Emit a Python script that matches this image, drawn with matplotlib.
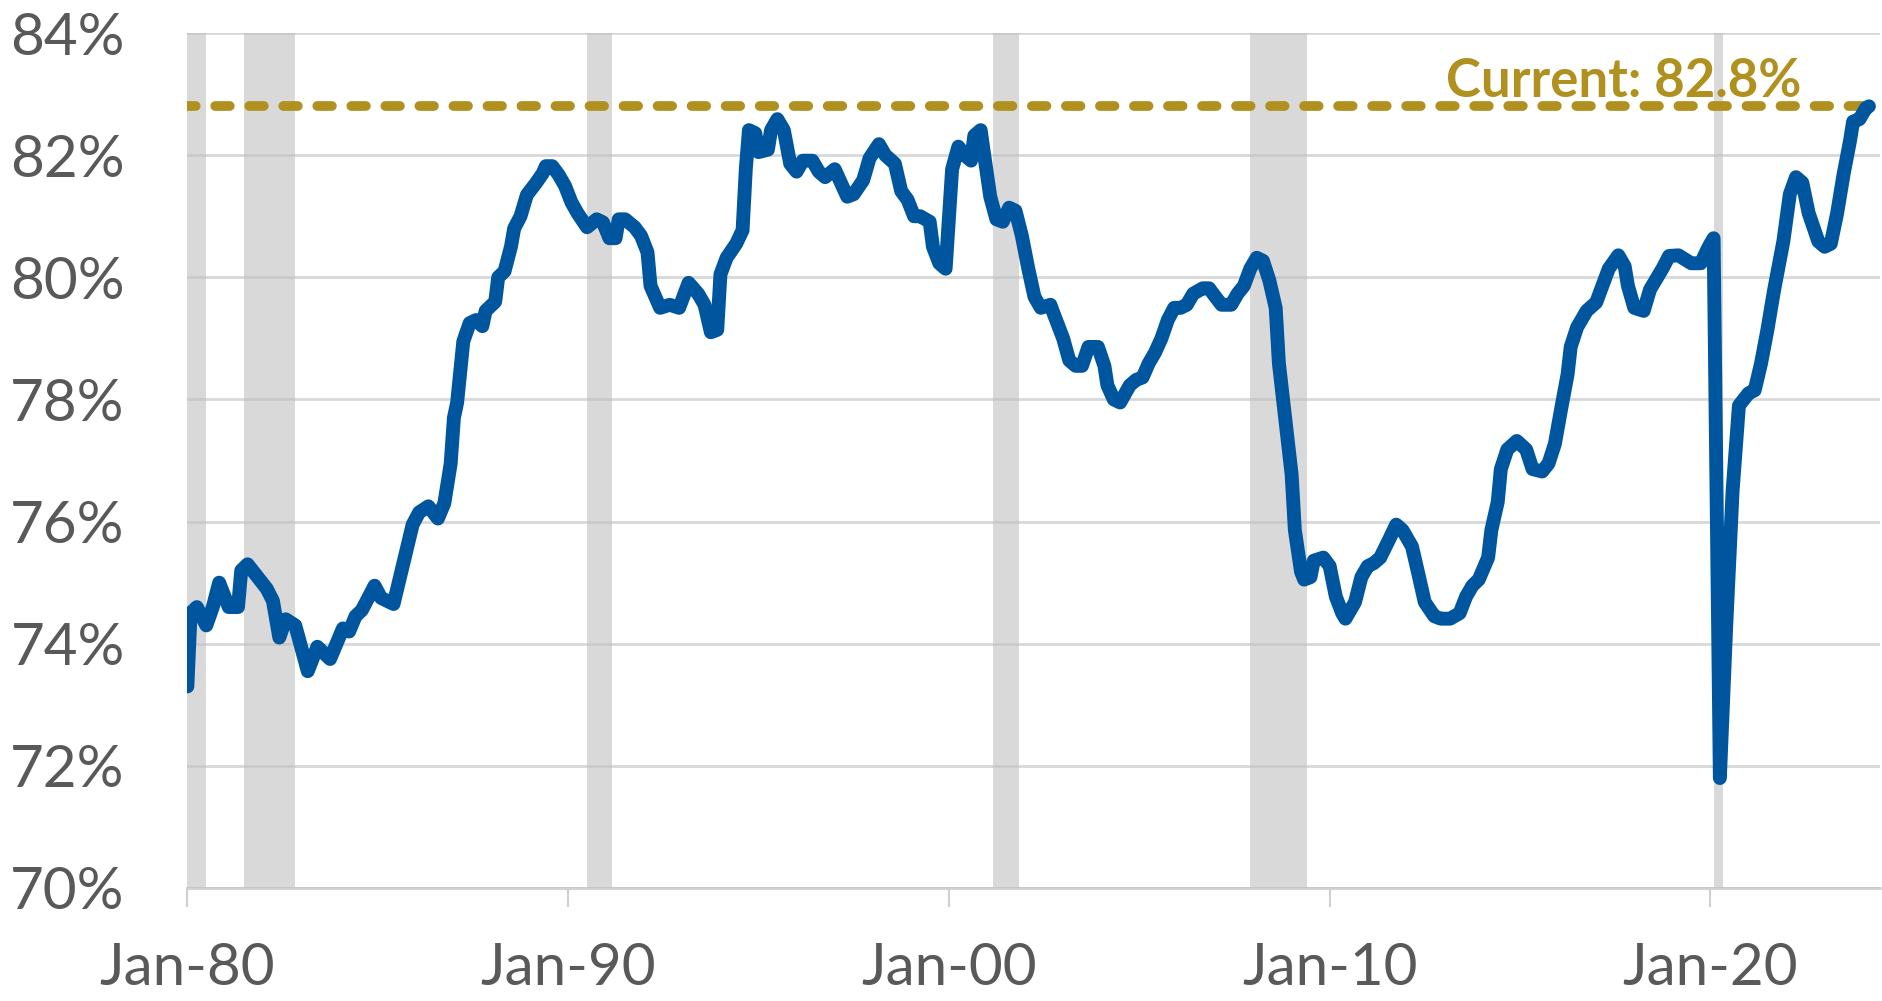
import matplotlib
matplotlib.use("Agg")
import matplotlib.pyplot as plt
import matplotlib.dates as mdates
import pandas as pd
from matplotlib.ticker import FuncFormatter

# values (monthly, %)
obs_month = [
    "1980-01", "1980-02", "1980-04", "1980-07", "1980-09", "1980-11",
    "1981-02", "1981-05", "1981-06", "1981-08", "1981-11",
    "1982-02", "1982-04", "1982-06", "1982-08", "1982-11",
    "1983-03", "1983-06", "1983-08", "1983-10",
    "1984-02", "1984-04", "1984-06", "1984-08", "1984-12",
    "1985-02", "1985-06", "1985-09", "1985-12",
    "1986-02", "1986-05", "1986-08", "1986-10", "1986-12",
    "1987-01", "1987-02", "1987-04", "1987-06", "1987-08", "1987-10", "1987-11",
    "1988-02", "1988-03", "1988-05", "1988-07", "1988-08", "1988-10", "1988-12",
    "1989-03", "1989-05", "1989-06", "1989-08", "1989-10", "1989-12",
    "1990-02", "1990-04", "1990-07", "1990-10", "1990-12",
    "1991-02", "1991-04", "1991-05", "1991-07", "1991-10", "1991-12",
    "1992-02", "1992-03", "1992-06", "1992-09", "1992-12",
    "1993-03", "1993-06", "1993-08", "1993-10", "1993-12",
    "1994-01", "1994-03", "1994-06", "1994-08", "1994-09", "1994-10", "1994-12",
    "1995-01", "1995-04", "1995-05", "1995-07", "1995-09", "1995-11",
    "1996-01", "1996-03", "1996-06", "1996-08", "1996-10",
    "1997-01", "1997-03", "1997-05", "1997-07", "1997-10", "1997-12",
    "1998-03", "1998-05", "1998-08", "1998-10", "1998-12",
    "1999-02", "1999-04", "1999-07", "1999-08", "1999-10", "1999-12",
    "2000-01", "2000-02", "2000-04", "2000-06", "2000-08", "2000-09", "2000-11", "2000-12",
    "2001-02", "2001-04", "2001-06", "2001-08", "2001-10", "2001-12",
    "2002-02", "2002-04", "2002-06", "2002-09", "2002-10",
    "2003-01", "2003-03", "2003-05", "2003-07", "2003-09", "2003-12",
    "2004-02", "2004-03", "2004-05", "2004-07", "2004-10", "2004-12",
    "2005-02", "2005-04", "2005-06", "2005-08", "2005-10", "2005-12",
    "2006-02", "2006-04", "2006-06", "2006-09", "2006-11",
    "2007-01", "2007-03", "2007-06", "2007-08", "2007-10", "2007-12",
    "2008-02", "2008-04", "2008-06", "2008-08", "2008-09", "2008-11",
    "2009-01", "2009-02", "2009-04", "2009-05", "2009-07", "2009-08", "2009-11",
    "2010-01", "2010-03", "2010-05", "2010-06", "2010-09", "2010-11",
    "2011-01", "2011-03", "2011-05", "2011-08", "2011-10", "2011-12",
    "2012-03", "2012-05", "2012-07", "2012-10", "2012-12",
    "2013-03", "2013-06", "2013-08", "2013-10", "2013-12",
    "2014-03", "2014-04", "2014-06", "2014-07", "2014-09", "2014-12",
    "2015-03", "2015-05", "2015-08", "2015-10", "2015-12",
    "2016-02", "2016-04", "2016-05", "2016-07", "2016-10",
    "2017-01", "2017-03", "2017-05", "2017-08", "2017-10", "2017-11",
    "2018-01", "2018-04", "2018-06", "2018-10", "2018-12",
    "2019-03", "2019-07", "2019-10", "2019-12",
    "2020-01", "2020-02", "2020-04", "2020-06", "2020-08", "2020-10",
    "2021-01", "2021-03", "2021-05", "2021-07", "2021-09", "2021-12",
    "2022-02", "2022-04", "2022-06", "2022-08", "2022-11",
    "2023-01", "2023-03", "2023-05", "2023-07", "2023-09", "2023-10", "2023-12",
    "2024-02", "2024-03",
]
rate = [
    73.3, 74.5, 74.6, 74.3, 74.6, 75.0,
    74.6, 74.6, 75.2, 75.3, 75.1,
    74.9, 74.7, 74.1, 74.4, 74.3,
    73.55, 73.95, 73.85, 73.75,
    74.25, 74.2, 74.45, 74.55, 74.95,
    74.75, 74.65, 75.3, 75.95,
    76.15, 76.25, 76.05, 76.3, 76.95,
    77.7, 77.95, 78.95, 79.25, 79.3, 79.2, 79.45,
    79.6, 80.0, 80.1, 80.5, 80.8, 81.0, 81.35,
    81.55, 81.7, 81.82, 81.82, 81.68, 81.5,
    81.23, 81.05, 80.82, 80.95, 80.9,
    80.64, 80.64, 80.95, 80.95, 80.82, 80.68,
    80.41, 79.86, 79.5, 79.55, 79.5,
    79.91, 79.73, 79.55, 79.1, 79.14,
    80.05, 80.32, 80.55, 80.77, 81.77, 82.41, 82.36,
    82.05, 82.09, 82.41, 82.59, 82.41, 81.86,
    81.73, 81.91, 81.91, 81.73, 81.64,
    81.77, 81.55, 81.32, 81.36, 81.59, 81.95,
    82.18, 82.0, 81.86, 81.41, 81.27,
    81.0, 81.0, 80.91, 80.5, 80.23, 80.14,
    80.95, 81.77, 82.14, 82.0, 81.91, 82.32, 82.41, 82.05,
    81.32, 80.95, 80.91, 81.14, 81.09, 80.68,
    80.14, 79.68, 79.5, 79.55, 79.41,
    79.0, 78.64, 78.55, 78.55, 78.86, 78.86,
    78.55, 78.23, 78.0, 77.95, 78.23, 78.32,
    78.36, 78.59, 78.77, 79.0, 79.3, 79.5,
    79.5, 79.55, 79.73, 79.82, 79.82,
    79.68, 79.55, 79.55, 79.73, 79.86, 80.14,
    80.32, 80.27, 79.95, 79.5, 78.59, 77.68,
    76.77, 75.86, 75.18, 75.05, 75.09, 75.36, 75.41,
    75.27, 74.77, 74.5, 74.41, 74.68, 75.09,
    75.27, 75.32, 75.41, 75.73, 75.95, 75.86,
    75.59, 75.14, 74.68, 74.45, 74.41,
    74.41, 74.5, 74.77, 74.95, 75.05,
    75.41, 75.86, 76.32, 76.86, 77.18, 77.32,
    77.18, 76.86, 76.82, 76.95, 77.27,
    77.86, 78.41, 78.86, 79.18, 79.45,
    79.59, 79.86, 80.14, 80.36, 80.18, 79.86,
    79.5, 79.45, 79.8, 80.15, 80.35,
    80.36, 80.23, 80.23, 80.45,
    80.55, 80.64, 71.8, 74.3, 76.5, 77.9,
    78.1, 78.15, 78.59, 79.14, 79.77, 80.59,
    81.36, 81.64, 81.55, 81.05, 80.59,
    80.5, 80.55, 81.05, 81.68, 82.23, 82.55, 82.59,
    82.77, 82.8,
]

# recession periods (shaded)
recession_start = ["1980-01", "1981-07", "1990-07", "2001-03", "2007-12", "2020-02"]
recession_end = ["1980-07", "1982-11", "1991-03", "2001-11", "2009-06", "2020-05"]

y_ticks = [70, 72, 74, 76, 78, 80, 82, 84]
x_tick_years = ["1980-01", "1990-01", "2000-01", "2010-01", "2020-01"]

current = rate[-1]

BLUE = "#00569E"
GOLD = "#B0901E"
GREY_TXT = "#595959"

plt.rcParams["font.family"] = ["Lato", "DejaVu Sans"]

dates = pd.to_datetime(obs_month)

fig = plt.figure(figsize=(18.83, 10.01), dpi=100)
ax = fig.add_axes([0.0995, 0.1129, 0.8989, 0.8541])

for s, e in zip(recession_start, recession_end):
    ax.axvspan(pd.Timestamp(s), pd.Timestamp(e), color="#D9D9D9", lw=0, zorder=0)

# current level
ax.plot([dates[0], dates[-1]], [current, current], color=GOLD, lw=7,
        linestyle=(0.6, (1.5, 2.0)), dash_capstyle="round", zorder=3)
ax.annotate(f"Current: {current:.1f}%", xy=(dates[-1], current),
            xytext=(-49, 7), textcoords="offset points",
            ha="right", va="baseline", color=GOLD,
            fontsize=38, fontweight="bold")

ax.plot(dates, rate, color=BLUE, lw=10, solid_joinstyle="round",
        solid_capstyle="round", zorder=4)

ax.set_ylim(70, 84)
ax.set_xlim(pd.Timestamp("1980-01-01"), pd.Timestamp("2024-06-15"))
ax.set_yticks(y_ticks)
ax.yaxis.set_major_formatter(FuncFormatter(lambda v, p: f"{v:.0f}%"))
ax.set_xticks(pd.to_datetime(x_tick_years))
ax.xaxis.set_major_formatter(mdates.DateFormatter("%b-%y"))

ax.yaxis.grid(True, color="#BFBFBF", alpha=0.6, lw=2, zorder=1)
ax.set_axisbelow(False)
for side in ["left", "right", "top"]:
    ax.spines[side].set_visible(False)
ax.spines["bottom"].set_color("#D0D0D0")
ax.spines["bottom"].set_linewidth(2)
ax.spines["bottom"].set_zorder(1)

ax.tick_params(axis="y", length=0, pad=45, labelsize=42, labelcolor=GREY_TXT)
ax.tick_params(axis="x", length=14, width=1.5, color="#D0D0D0", pad=25,
               labelsize=42, labelcolor=GREY_TXT)

fig.savefig("out.png", dpi=100, facecolor="white")
